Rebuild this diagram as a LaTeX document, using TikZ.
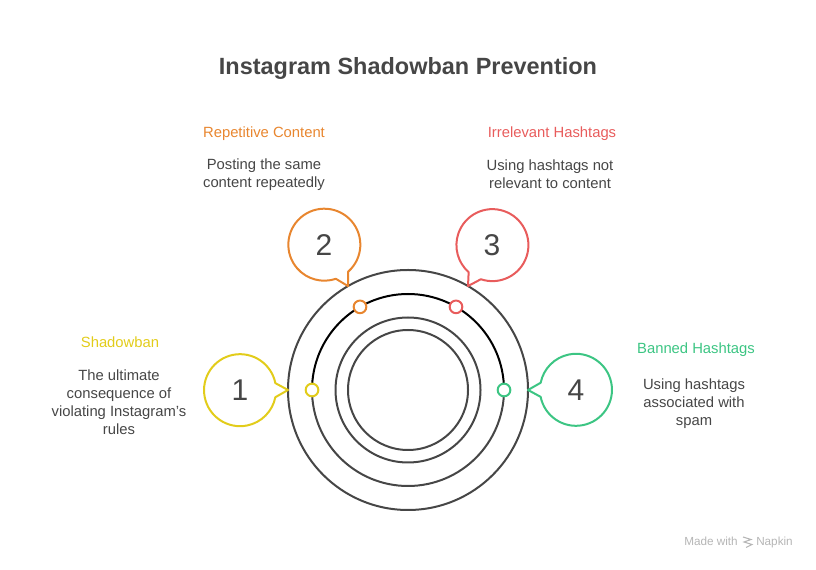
\documentclass[tikz,border=0pt]{standalone}
\usepackage{fontspec}
\setmainfont{Liberation Sans}
\definecolor{inkc}{HTML}{464646}
\definecolor{yel}{HTML}{E2CC1A}
\definecolor{ora}{HTML}{E8862F}
\definecolor{redc}{HTML}{E85C5C}
\definecolor{gre}{HTML}{3CC583}
\definecolor{wm}{HTML}{B5B5B5}
\tikzset{
  x=0.75pt,y=0.75pt,
  ring/.style={circle,draw=inkc,line width=1.5pt,minimum size=#1*0.75pt,inner sep=0pt,outer sep=0pt},
  bubblenum/.style={circle,minimum size=54pt,inner sep=0pt,outer sep=0pt,text=inkc,font=\fontsize{22.5pt}{26pt}\selectfont},
  bubbleline/.style={line width=1.5pt,line join=round},
  dot/.style={circle,draw=#1,fill=white,line width=1.5pt,minimum size=9.5pt,inner sep=0pt,outer sep=0pt},
  head/.style={text=#1,font=\fontsize{11.1pt}{13.5pt}\selectfont,inner sep=0pt},
  body/.style={text=inkc,font=\fontsize{11.1pt}{13.5pt}\selectfont,align=center,inner sep=0pt},
  mark text/.style={text=wm,font=\fontsize{8.8pt}{10pt}\selectfont,inner sep=0pt,anchor=base},
}
\begin{document}
\begin{tikzpicture}
\useasboundingbox (0,0) rectangle (816,570);
\node[text=inkc,font=\fontsize{17.6pt}{22pt}\selectfont\bfseries] (title) at (408,502) {Instagram Shadowban Prevention};
% rings
\node[ring=240] (ringA) at (408,180) {};
\node[ring=192,draw=none] (ringB) at (408,180) {};
\node[ring=145] (ringC) at (408,180) {};
\node[ring=120] (ringD) at (408,180) {};
\draw[line width=1.5pt,color=inkc] (ringB.180) arc[start angle=180,end angle=360,radius=72pt];
\draw[line width=1.5pt,color=black] (ringB.180) arc[start angle=180,end angle=0,radius=72pt];
% bubbles
\node[bubblenum] (b1) at (240,180) {1};
\node[bubblenum] (b2) at (324,325) {2};
\node[bubblenum] (b3) at (492,325) {3};
\node[bubblenum] (b4) at (576,180) {4};
\draw[bubbleline,draw=yel] (b1.11.3) arc[start angle=11.3,end angle=348.7,radius=27pt] -- (ringA.180) -- cycle;
\draw[bubbleline,draw=ora] (b2.-48.7) arc[start angle=-48.7,end angle=288.7,radius=27pt] -- (ringA.120) -- cycle;
\draw[bubbleline,draw=redc] (b3.-108.7) arc[start angle=-108.7,end angle=228.7,radius=27pt] -- (ringA.60) -- cycle;
\draw[bubbleline,draw=gre] (b4.191.3) arc[start angle=191.3,end angle=528.7,radius=27pt] -- (ringA.0) -- cycle;
% dots
\node[dot=yel] (d1) at (ringB.180) {};
\node[dot=ora] (d2) at (ringB.120) {};
\node[dot=redc] (d3) at (ringB.60) {};
\node[dot=gre] (d4) at (ringB.0) {};
% labels
\node[head=yel] (h1) at (120,228) {Shadowban};
\node[body] (t1) at (119,168) {The ultimate\\consequence of\\violating Instagram's\\rules};
\node[head=ora] (h2) at (264,436) {Repetitive Content};
\node[body] (t2) at (264,395) {Posting the same\\content repeatedly};
\node[head=redc] (h3) at (552,436) {Irrelevant Hashtags};
\node[body] (t3) at (550,396) {Using hashtags not\\relevant to content};
\node[head=gre] (h4) at (696,220) {Banned Hashtags};
\node[body] (t4) at (694,166) {Using hashtags\\associated with\\spam};
% watermark
\node[mark text] (m1) at (711,24) {Made with};
\node[mark text] (m2) at (774.5,24) {Napkin};
\draw[wm,line width=0.8pt] (743,33) -- (751,30.5) -- (744,28) -- (752,25.5) -- (746,22.5);
\end{tikzpicture}
\end{document}
